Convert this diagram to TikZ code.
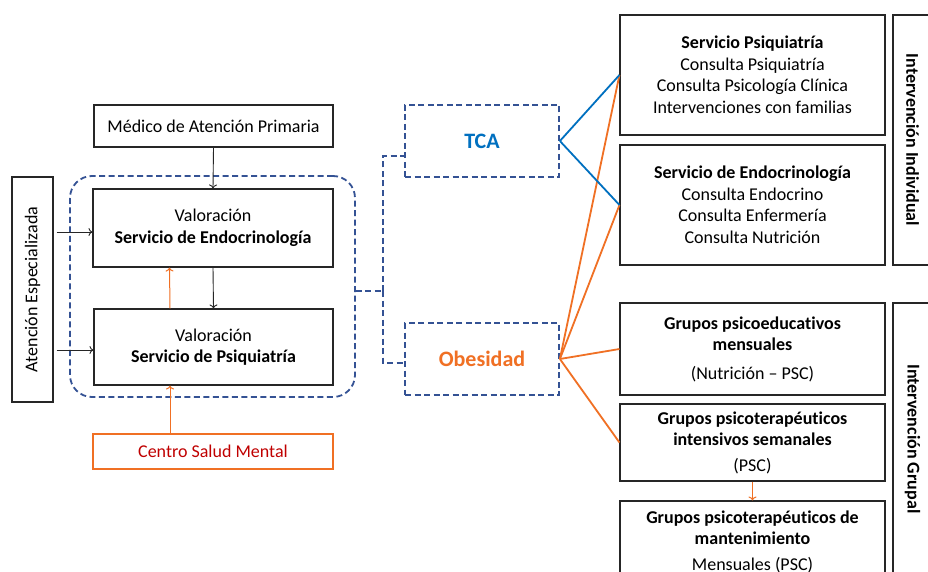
\documentclass[tikz,border=0pt]{standalone}
\usepackage{fontspec}
\setmainfont{Carlito}[Ligatures=NoCommon]
\usetikzlibrary{arrows.meta}
\definecolor{dblue}{RGB}{52,82,148}
\definecolor{tblue}{RGB}{0,112,192}
\definecolor{orng}{RGB}{240,112,36}
\definecolor{dred}{RGB}{192,0,0}
\begin{document}
\begin{tikzpicture}[x=1pt,y=-1pt,
  box/.style={draw=black!85, line width=1.1pt, align=center, inner sep=0pt,
    font=\fontsize{18}{21.5}\selectfont},
  dbox/.style={draw=dblue, line width=1.8pt, dash pattern=on 6pt off 3.5pt, inner sep=0pt},
  dconn/.style={draw=dblue, line width=1.8pt, dash pattern=on 6pt off 3.5pt},
  blk/.style={draw=black!85, line width=0.9pt, -{To[length=4pt,width=8pt]}},
  orarr/.style={draw=orng, line width=1pt, -{To[length=4pt,width=8pt]}},
  bline/.style={draw=tblue, line width=1.8pt},
  oline/.style={draw=orng, line width=1.8pt}
]
\useasboundingbox (0,0) rectangle (928,572);
\clip (0,0) rectangle (928,572);
\fill[white] (0,0) rectangle (928,572);

% left part
\node[box, minimum width=239pt, minimum height=42pt] (medico) at (213.5,126) {Médico de Atención Primaria};
\node[dbox, rounded corners=22pt, minimum width=285pt, minimum height=221pt] (cont) at (212.5,286.5) {};
\node[box, minimum width=240pt, minimum height=78pt] (endo) at (213,228) {Valoración\\\textbf{Servicio de Endocrinología}};
\node[box, minimum width=239pt, minimum height=76pt] (psiq) at (213.5,347) {Valoración\\\textbf{Servicio de Psiquiatría}};
\node[box, draw=orng, text=dred, minimum width=240pt, minimum height=35pt] (csm) at (213,451.5) {Centro Salud Mental};
\node[box, rotate=90, minimum width=225pt, minimum height=41pt] (atesp) at (32.5,289.5) {Atención Especializada};

\draw[blk] (medico.south) -- (endo.north);
\draw[blk] (endo.south) -- (psiq.north);
\draw[orarr] ([xshift=-43.5pt]psiq.north) -- ([xshift=-43.5pt]endo.south);
\draw[orarr] ([xshift=-43pt]csm.north) -- ([xshift=-43.5pt]psiq.south);
\draw[blk, shorten <=3pt] (atesp.south |- 0,232) -- (endo.west |- 0,232);
\draw[blk, shorten <=3pt] (atesp.south |- 0,350) -- (psiq.west |- 0,350);

% middle
\node[dbox, minimum width=154pt, minimum height=72pt, text=tblue, font=\fontsize{22}{26}\selectfont\bfseries] (tca) at (482,141) {TCA};
\node[dbox, minimum width=154pt, minimum height=72pt, text=orng, font=\fontsize{22}{26}\selectfont\bfseries] (obes) at (482,359) {Obesidad};
\draw[dconn] (cont.east |- 0,291) -- (383,291) coordinate (mid);
\draw[dconn] (mid) |- ([yshift=-15pt]tca.west);
\draw[dconn] (mid) |- ([yshift=-4pt]obes.west);

% right boxes
\node[box, minimum width=265pt, minimum height=120pt] (sp) at (752.5,75) {\textbf{Servicio Psiquiatría}\\Consulta Psiquiatría\\Consulta Psicología Clínica\\Intervenciones con familias};
\node[box, minimum width=265pt, minimum height=120pt] (se) at (752.5,205) {\textbf{Servicio de Endocrinología}\\Consulta Endocrino\\Consulta Enfermería\\Consulta Nutrición};
\node[box, minimum width=265pt, minimum height=92pt] (g1) at (752.5,349) {\textbf{Grupos psicoeducativos}\\\textbf{mensuales}\\[7pt](Nutrición – PSC)};
\node[box, minimum width=265pt, minimum height=77pt] (g2) at (752.5,442.5) {\textbf{Grupos psicoterapéuticos}\\\textbf{intensivos semanales}\\[4pt](PSC)};
\node[box, minimum width=265pt, minimum height=81pt] (g3) at (752.5,541.5) {\textbf{Grupos psicoterapéuticos de}\\\textbf{mantenimiento}\\[4pt]Mensuales (PSC)};
\node[box, rotate=-90, minimum width=250pt, minimum height=39pt, font=\fontsize{18}{21}\selectfont\bfseries] (ii) at (912.5,140) {Intervención Individual};
\node[box, rotate=-90, minimum width=272pt, minimum height=39pt, font=\fontsize{18}{21}\selectfont\bfseries] (ig) at (912.5,439) {Intervención Grupal};

\draw[orarr] (g2.south) -- (g3.north);

% connectors
\draw[oline] (obes.east) -- (sp.west);
\draw[oline] (obes.east) -- (se.west);
\draw[oline] (obes.east) -- (g1.west);
\draw[oline] (obes.east) -- (g2.west);
\draw[bline] (tca.east) -- (sp.west);
\draw[bline] (tca.east) -- (se.west);
\end{tikzpicture}
\end{document}
